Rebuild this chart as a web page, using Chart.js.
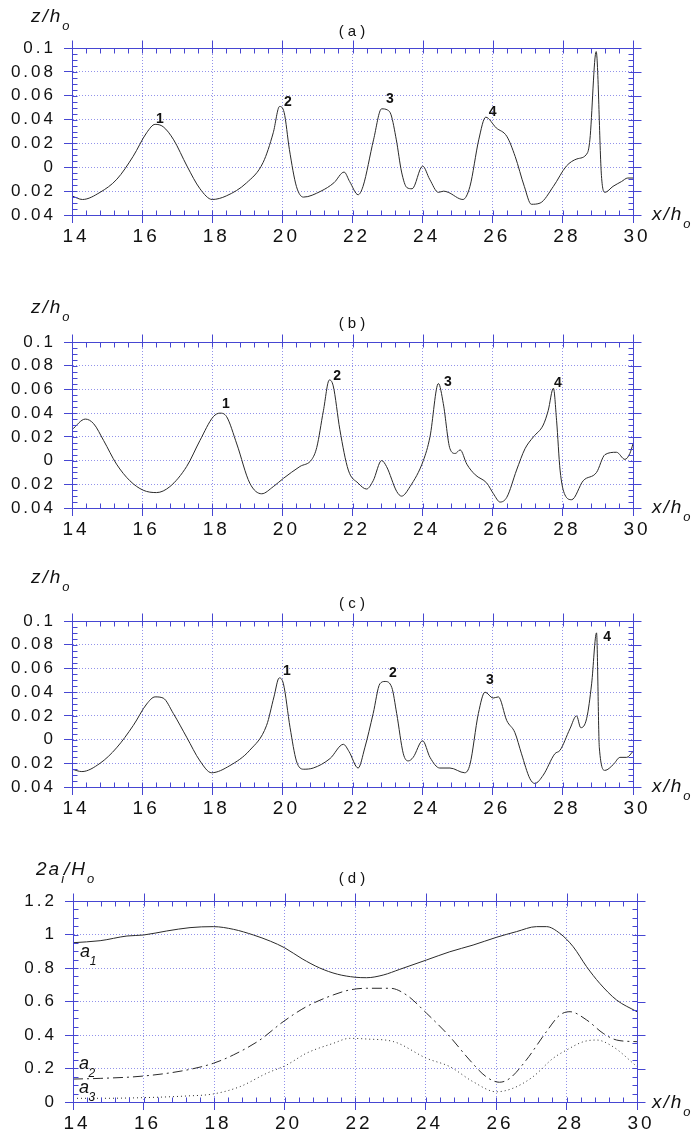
<!DOCTYPE html>
<html>
<head>
<meta charset="utf-8">
<script src="https://cdn.jsdelivr.net/npm/chart.js@4.4.0/dist/chart.umd.min.js"></script>
<style>
  body { margin: 0; background: #fff; }
  #wrap { position: relative; width: 699px; height: 1137px; overflow: hidden;
          font-family: "Liberation Sans", Arial, sans-serif; color: #111; }
  canvas { position: absolute; left: 0; }
  .lbl { position: absolute; white-space: nowrap; line-height: 19px; font-size: 19px; font-style: italic; letter-spacing: 2px; }
  .lbl .s { position: relative; top: 8px; font-size: 13px; letter-spacing: 0; }
  .ttl { position: absolute; white-space: nowrap; font-size: 15px; transform: translate(-50%, -50%); left: 352px; }
</style>
</head>
<body>
<div id="wrap">
  <canvas id="chartA" width="699" height="260" style="top:0px"></canvas>
  <canvas id="chartB" width="699" height="270" style="top:280px"></canvas>
  <canvas id="chartC" width="699" height="270" style="top:560px"></canvas>
  <canvas id="chartD" width="699" height="297" style="top:840px"></canvas>

  <div class="lbl" style="left:31px;top:6px">z/h<span class="s">o</span></div>
  <div class="ttl" style="top:30px">( a )</div>
  <div class="lbl" style="left:652px;top:204px">x/h<span class="s">o</span></div>

  <div class="lbl" style="left:31px;top:297px">z/h<span class="s">o</span></div>
  <div class="ttl" style="top:322px">( b )</div>
  <div class="lbl" style="left:652px;top:497px">x/h<span class="s">o</span></div>

  <div class="lbl" style="left:31px;top:567px">z/h<span class="s">o</span></div>
  <div class="ttl" style="top:602px">( c )</div>
  <div class="lbl" style="left:652px;top:776px">x/h<span class="s">o</span></div>

  <div class="lbl" style="left:36px;top:859px">2a<span class="s">i</span>/H<span class="s">o</span></div>
  <div class="ttl" style="top:877px">( d )</div>
  <div class="lbl" style="left:652px;top:1092px">x/h<span class="s">o</span></div>
</div>

<script>
// (a)
const xA = [14.0, 14.3, 14.8, 15.28, 15.74, 16.13, 16.37, 16.6, 16.9, 17.28, 17.65, 18.0, 18.4, 18.98, 19.45, 19.74, 19.92, 20.05, 20.2, 20.4, 20.6, 21.1, 21.47, 21.76, 21.92, 22.16, 22.3, 22.6, 22.83, 23.0, 23.1, 23.25, 23.4, 23.55, 23.7, 24.0, 24.2, 24.45, 24.6, 24.73, 25.15, 25.35, 25.6, 25.8, 26.1, 26.4, 26.64, 26.9, 27.1, 27.35, 27.73, 28.1, 28.4, 28.7, 28.77, 28.95, 29.1, 29.2, 29.43, 29.67, 29.85, 30.0];
const zA = [-0.024, -0.027, -0.021, -0.010, 0.009, 0.029, 0.036, 0.034, 0.023, 0.001, -0.018, -0.027, -0.024, -0.013, 0.004, 0.029, 0.051, 0.046, 0.015, -0.016, -0.025, -0.020, -0.013, -0.004, -0.012, -0.023, -0.016, 0.023, 0.049, 0.048, 0.044, 0.023, -0.004, -0.017, -0.018, 0.001, -0.010, -0.021, -0.020, -0.021, -0.027, -0.016, 0.023, 0.042, 0.033, 0.026, 0.009, -0.016, -0.031, -0.030, -0.016, 0.001, 0.007, 0.012, 0.023, 0.097, -0.007, -0.021, -0.016, -0.012, -0.009, -0.009];

// (b)
const xB = [14.0, 14.38, 14.62, 14.9, 15.27, 15.65, 16.03, 16.41, 16.79, 17.27, 17.65, 18.03, 18.22, 18.41, 18.7, 19.07, 19.41, 19.74, 20.03, 20.5, 20.84, 20.98, 21.17, 21.34, 21.45, 21.64, 21.88, 22.16, 22.4, 22.59, 22.83, 22.97, 23.26, 23.4, 23.64, 24.02, 24.21, 24.45, 24.59, 24.78, 24.93, 25.07, 25.26, 25.5, 25.83, 26.02, 26.21, 26.4, 26.68, 26.92, 27.16, 27.44, 27.58, 27.73, 27.82, 27.92, 28.06, 28.25, 28.58, 28.96, 29.2, 29.53, 29.77, 29.91, 30.0];
const zB = [0.026, 0.035, 0.031, 0.017, -0.003, -0.017, -0.025, -0.027, -0.022, -0.005, 0.017, 0.037, 0.040, 0.037, 0.014, -0.019, -0.028, -0.022, -0.015, -0.005, 0.001, 0.011, 0.042, 0.068, 0.063, 0.026, -0.008, -0.019, -0.024, -0.017, 0.000, -0.005, -0.026, -0.030, -0.022, 0.000, 0.020, 0.065, 0.048, 0.010, 0.006, 0.009, -0.003, -0.012, -0.019, -0.028, -0.035, -0.031, -0.008, 0.010, 0.020, 0.030, 0.042, 0.061, 0.034, -0.008, -0.029, -0.033, -0.017, -0.010, 0.005, 0.007, 0.001, 0.006, 0.014];

// (c)
const xC = [14.0, 14.28, 14.8, 15.27, 15.75, 16.13, 16.37, 16.6, 16.89, 17.27, 17.65, 17.98, 18.5, 19.07, 19.55, 19.76, 19.91, 20.03, 20.22, 20.4, 20.6, 20.88, 21.36, 21.74, 21.9, 22.16, 22.35, 22.59, 22.78, 22.93, 23.12, 23.26, 23.45, 23.59, 23.73, 24.0, 24.21, 24.49, 24.78, 25.2, 25.35, 25.59, 25.78, 26.01, 26.16, 26.4, 26.63, 26.82, 27.06, 27.2, 27.44, 27.77, 27.92, 28.2, 28.39, 28.51, 28.68, 28.82, 28.96, 29.04, 29.2, 29.44, 29.63, 29.82, 30.0];
const zC = [-0.025, -0.027, -0.020, -0.007, 0.012, 0.030, 0.036, 0.035, 0.022, 0.002, -0.018, -0.028, -0.022, -0.009, 0.012, 0.036, 0.052, 0.047, 0.010, -0.018, -0.025, -0.024, -0.016, -0.004, -0.010, -0.024, -0.007, 0.022, 0.047, 0.049, 0.044, 0.022, -0.012, -0.018, -0.015, -0.001, -0.015, -0.024, -0.024, -0.028, -0.021, 0.022, 0.040, 0.035, 0.036, 0.016, 0.006, -0.012, -0.033, -0.037, -0.030, -0.012, -0.009, 0.009, 0.020, 0.010, 0.018, 0.047, 0.090, -0.007, -0.026, -0.021, -0.015, -0.015, -0.010];

// (d)
const xD1 = [14, 14.77, 15.53, 16.0, 16.66, 17.32, 17.98, 18.55, 19.12, 19.6, 20.0, 20.5, 21.0, 21.5, 22.0, 22.33, 22.8, 23.27, 24.03, 24.69, 25.35, 26.01, 26.58, 27.15, 27.43, 27.81, 28.19, 28.57, 28.94, 29.42, 30];
const a1 = [0.951, 0.963, 0.991, 0.997, 1.021, 1.041, 1.047, 1.031, 0.997, 0.960, 0.921, 0.855, 0.800, 0.763, 0.745, 0.742, 0.758, 0.792, 0.848, 0.897, 0.937, 0.983, 1.017, 1.047, 1.047, 1.007, 0.927, 0.808, 0.709, 0.609, 0.539];
const xD2 = [14, 14.77, 16, 17.23, 17.98, 18.55, 19.3, 19.96, 20.62, 21.38, 21.85, 22.33, 23.0, 23.46, 24.03, 24.69, 25.25, 25.72, 26.1, 26.39, 26.86, 27.43, 27.81, 28.1, 28.57, 29.04, 29.42, 30];
const a2 = [0.137, 0.141, 0.155, 0.191, 0.231, 0.281, 0.370, 0.479, 0.569, 0.639, 0.669, 0.679, 0.679, 0.639, 0.530, 0.390, 0.251, 0.151, 0.118, 0.141, 0.251, 0.420, 0.519, 0.539, 0.490, 0.410, 0.370, 0.360];
const xD3 = [14, 14.77, 16, 17.23, 17.98, 18.74, 19.49, 20.06, 20.62, 21.38, 21.85, 22.33, 23.1, 24.03, 24.69, 25.35, 26.01, 26.48, 27.05, 27.62, 28.0, 28.48, 28.85, 29.32, 30];
const a3 = [0.022, 0.022, 0.026, 0.036, 0.048, 0.092, 0.171, 0.221, 0.291, 0.350, 0.380, 0.376, 0.360, 0.261, 0.211, 0.121, 0.061, 0.082, 0.151, 0.261, 0.310, 0.360, 0.370, 0.330, 0.211];

// labels written on the curves (data coordinates)
const notesA = [{x: 16.51, y: 0.040, t: '1'}, {x: 20.16, y: 0.055, t: '2'}, {x: 23.07, y: 0.057, t: '3'}, {x: 26.0, y: 0.046, t: '4'}];
const notesB = [{x: 18.39, y: 0.048, t: '1'}, {x: 21.56, y: 0.071, t: '2'}, {x: 24.72, y: 0.066, t: '3'}, {x: 27.86, y: 0.065, t: '4'}];
const notesC = [{x: 20.13, y: 0.058, t: '1'}, {x: 23.15, y: 0.056, t: '2'}, {x: 25.92, y: 0.050, t: '3'}, {x: 29.26, y: 0.086, t: '4'}];
const notesD = [{x: 14.34, y: 0.896, t: 'a', sub: '1'}, {x: 14.31, y: 0.227, t: 'a', sub: '2'}, {x: 14.31, y: 0.084, t: 'a', sub: '3'}];

const FONT = '"Liberation Sans", Arial, sans-serif';
const frameColor = '#4646d2';
const gridColor = 'rgba(100, 100, 225, 0.7)';

function pts(xs, ys) {
  return xs.map((x, i) => ({x: x, y: ys[i]}));
}

const framePlugin = {
  id: 'frame',
  beforeDraw(chart) {
    chart.ctx.letterSpacing = '3px';
  },
  afterDraw(chart, args, opts) {
    const ctx = chart.ctx;
    const xs = chart.scales.x, ys = chart.scales.y;
    const a = chart.chartArea;
    const L = Math.round(a.left) + 0.5, R = Math.round(a.right) + 0.5;
    const T = Math.round(a.top) + 0.5, B = Math.round(a.bottom) + 0.5;
    ctx.save();
    ctx.letterSpacing = '0px';
    ctx.strokeStyle = frameColor;
    ctx.lineWidth = 1;
    ctx.beginPath();
    // minor ticks
    let n = Math.round((xs.max - xs.min) / opts.xMinor);
    for (let i = 0; i <= n; i++) {
      const px = Math.round(xs.getPixelForValue(xs.min + i * opts.xMinor)) + 0.5;
      ctx.moveTo(px, T); ctx.lineTo(px, T + 5);
      ctx.moveTo(px, B); ctx.lineTo(px, B - 5);
    }
    n = Math.round((ys.max - ys.min) / opts.yMinor);
    for (let i = 0; i <= n; i++) {
      const py = Math.round(ys.getPixelForValue(ys.min + i * opts.yMinor)) + 0.5;
      ctx.moveTo(L, py); ctx.lineTo(L + 5, py);
      ctx.moveTo(R, py); ctx.lineTo(R - 5, py);
    }
    // major ticks sticking out on top and right
    xs.ticks.forEach(t => {
      const px = Math.round(xs.getPixelForValue(t.value)) + 0.5;
      ctx.moveTo(px, T - 8); ctx.lineTo(px, T);
    });
    ys.ticks.forEach(t => {
      const py = Math.round(ys.getPixelForValue(t.value)) + 0.5;
      ctx.moveTo(R, py); ctx.lineTo(R + 8, py);
    });
    ctx.rect(L, T, R - L, B - T);
    ctx.stroke();

    // curve labels
    ctx.fillStyle = '#111';
    ctx.textBaseline = 'middle';
    ctx.textAlign = 'center';
    (opts.notes || []).forEach(nt => {
      const px = xs.getPixelForValue(nt.x), py = ys.getPixelForValue(nt.y);
      if (nt.sub) {
        ctx.font = 'italic 18px ' + FONT;
        ctx.fillText(nt.t, px, py);
        ctx.font = 'italic 12px ' + FONT;
        ctx.fillText(nt.sub, px + 8, py + 10);
      } else {
        ctx.font = 'bold 14px ' + FONT;
        ctx.fillText(nt.t, px, py);
      }
    });
    ctx.restore();
  }
};

function makePanel(id, cfg) {
  const canvas = document.getElementById(id);
  const H = canvas.height;
  return new Chart(canvas, {
    type: 'line',
    data: { datasets: cfg.datasets },
    options: {
      responsive: false,
      animation: false,
      layout: { padding: { left: 0, right: 699 - cfg.right, top: cfg.top, bottom: 0 } },
      plugins: {
        legend: { display: false },
        tooltip: { enabled: false },
        frame: { xMinor: 0.4, yMinor: cfg.yMinor, notes: cfg.notes }
      },
      elements: { point: { radius: 0 }, line: { borderWidth: 1, borderColor: '#2a2a2a' } },
      scales: {
        x: {
          type: 'linear', min: 14, max: 30,
          ticks: { stepSize: 2, padding: 2, labelOffset: 4, maxRotation: 0, color: '#111', font: { family: FONT, size: 19 } },
          grid: { color: gridColor, tickLength: 8, tickColor: frameColor },
          border: { display: true, color: frameColor, dash: [1, 2] },
          afterFit: s => { s.height = H - cfg.bottom; }
        },
        y: {
          type: 'linear', min: cfg.yMin, max: cfg.yMax,
          ticks: {
            stepSize: cfg.yStep, padding: 8, color: '#111', font: { family: FONT, size: 17 },
            callback: v => String(Math.abs(Math.round(v * 100) / 100))
          },
          grid: { color: gridColor, tickLength: 8, tickColor: frameColor },
          border: { display: true, color: frameColor, dash: [1, 2] },
          afterFit: s => { s.width = cfg.left; }
        }
      }
    },
    plugins: [framePlugin]
  });
}

function zLine(xs, ys) {
  return { data: pts(xs, ys), cubicInterpolationMode: 'monotone', fill: false };
}

makePanel('chartA', {
  left: 72, right: 633, top: 48, bottom: 215,
  yMin: -0.04, yMax: 0.1, yStep: 0.02, yMinor: 0.005, notes: notesA,
  datasets: [zLine(xA, zA)]
});
makePanel('chartB', {
  left: 72, right: 633, top: 342 - 280, bottom: 508 - 280,
  yMin: -0.04, yMax: 0.1, yStep: 0.02, yMinor: 0.005, notes: notesB,
  datasets: [zLine(xB, zB)]
});
makePanel('chartC', {
  left: 72, right: 633, top: 621 - 560, bottom: 787 - 560,
  yMin: -0.04, yMax: 0.1, yStep: 0.02, yMinor: 0.005, notes: notesC,
  datasets: [zLine(xC, zC)]
});
makePanel('chartD', {
  left: 73, right: 637, top: 901 - 840, bottom: 1102 - 840,
  yMin: 0, yMax: 1.2, yStep: 0.2, yMinor: 0.05, notes: notesD,
  datasets: [
    zLine(xD1, a1),
    Object.assign(zLine(xD2, a2), { borderDash: [10, 4, 2, 4] }),
    Object.assign(zLine(xD3, a3), { borderDash: [1, 3] })
  ]
});
</script>
</body>
</html>
